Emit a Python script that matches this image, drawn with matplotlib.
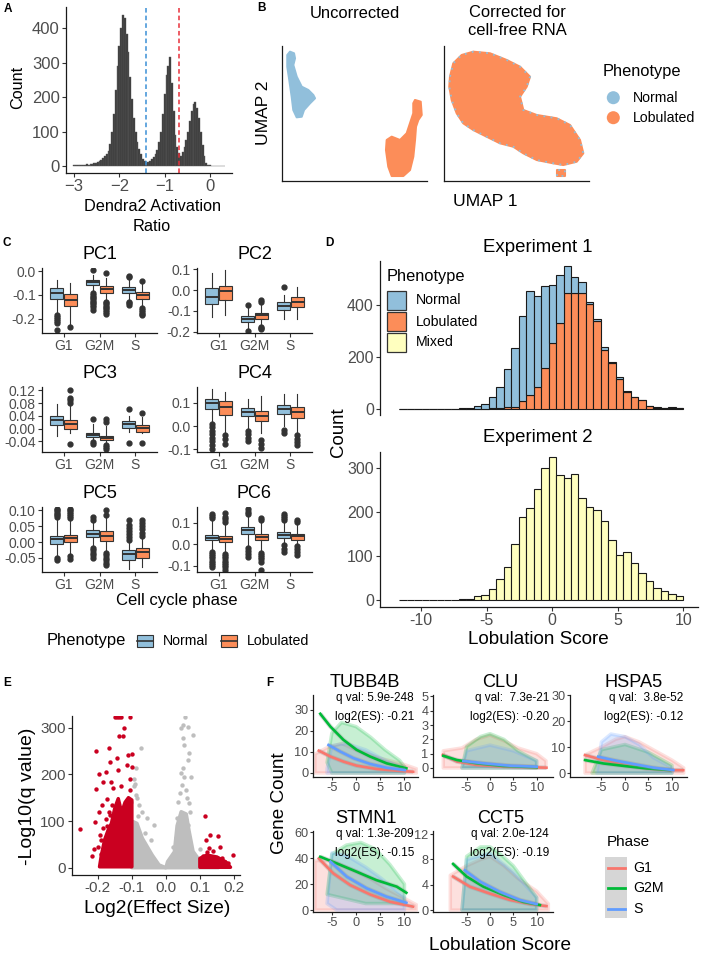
import numpy as np
import matplotlib
matplotlib.use('Agg')
import matplotlib.pyplot as plt
from matplotlib.patches import Polygon, Rectangle

plt.rcParams['font.family'] = ['Liberation Sans', 'DejaVu Sans']
plt.rcParams['axes.unicode_minus'] = False

BLUE = '#91BFDB'
ORANGE = '#FC8D59'
YELLOW = '#FFFFBF'
TICK = '#4D4D4D'
PHASE_COL = {'G1': '#F8766D', 'G2M': '#00BA38', 'S': '#619CFF'}

# ---------------- A: Dendra2 activation ratio ----------------
a_first_center = -3.0
a_bin_width = 0.04
a_counts = [2, 2, 3, 2, 4, 3, 4, 5, 4, 6, 6, 8, 10, 12, 14, 18, 25, 30, 36, 45,
            65, 100, 150, 220, 290, 350, 400, 440, 430, 385, 330, 260, 195, 140, 100, 70,
            50, 35, 22, 14, 8, 12, 16, 20, 26, 35, 48, 70, 100, 150, 210, 265, 290, 318,
            240, 160, 90, 55, 38, 30, 40, 55, 75, 100, 130, 160, 180, 185, 170, 140,
            100, 60, 28, 10, 4, 2, 1, 1, 1, 1, 1, 1, 1, 1]
a_cut_normal = -1.41
a_cut_lobulated = -0.68

# ---------------- B: UMAP cluster outlines ----------------
b_unc_normal_x = [0.53, 0.8, 1.2, 1.3, 1.13, 1.47, 1.97, 2.63, 3.13, 3.3, 2.8, 2.2, 1.97, 1.47, 1.13, 0.97, 0.73, 0.53]
b_unc_normal_y = [12.6, 12.93, 12.77, 12.27, 11.6, 10.43, 9.43, 9.1, 8.6, 8.27, 7.77, 7.1, 6.43, 6.37, 7.1, 8.43, 10.1, 11.43]
b_unc_lob_x = [13.3, 13.87, 13.97, 13.63, 13.4, 13.3, 13.13, 12.8, 12.13, 10.97, 10.63, 10.4, 10.47, 10.97, 11.8, 12.47, 12.8, 13.13, 13.13]
b_unc_lob_y = [8.1, 7.93, 6.6, 6.1, 5.43, 4.1, 2.43, 1.1, 0.5, 0.5, 1.43, 3.1, 4.1, 4.43, 4.1, 4.77, 5.77, 6.77, 7.77]
b_cor_x = [0.6, 0.93, 1.77, 2.93, 4.6, 6.27, 7.6, 8.6, 8.27, 7.6, 7.93, 9.27, 11.27, 12.6, 13.6, 13.93, 13.27,
           11.93, 10.93, 9.27, 7.93, 6.93, 5.6, 4.27, 2.93, 1.93, 1.27, 0.77, 0.53]
b_cor_y = [10.43, 11.77, 12.6, 12.93, 12.77, 12.1, 11.43, 10.43, 9.43, 8.43, 7.1, 6.6, 6.27, 5.6, 4.1, 2.77, 1.93,
           1.6, 1.77, 2.1, 2.77, 3.43, 3.77, 4.43, 5.1, 5.77, 6.77, 8.1, 9.43]
b_cor_small_x = [11.3, 11.3, 12.1, 12.1]
b_cor_small_y = [0.5, 1.1, 1.1, 0.5]

# ---------------- C: PC boxplots (order: G1-N, G1-L, G2M-N, G2M-L, S-N, S-L) ----------------
c_titles = ['PC1', 'PC2', 'PC3', 'PC4', 'PC5', 'PC6']
c_phases = ['G1', 'G2M', 'S']
c_q1 = [[-0.117, -0.147, -0.059, -0.090, -0.090, -0.116],
        [-0.065, -0.046, -0.155, -0.139, -0.098, -0.082],
        [0.010, -0.001, -0.026, -0.035, 0.002, -0.009],
        [0.073, 0.047, 0.041, 0.022, 0.051, 0.036],
        [-0.005, 0.000, 0.016, 0.003, -0.056, -0.050],
        [0.018, 0.011, 0.046, 0.018, 0.031, 0.022]]
c_med = [[-0.093, -0.121, -0.046, -0.076, -0.079, -0.100],
         [-0.033, -0.003, -0.140, -0.122, -0.078, -0.057],
         [0.028, 0.015, -0.019, -0.028, 0.014, 0.002],
         [0.099, 0.080, 0.061, 0.043, 0.073, 0.058],
         [0.011, 0.014, 0.026, 0.020, -0.039, -0.032],
         [0.031, 0.025, 0.065, 0.034, 0.045, 0.037]]
c_q3 = [[-0.071, -0.097, -0.036, -0.061, -0.067, -0.086],
        [0.008, 0.020, -0.127, -0.109, -0.057, -0.036],
        [0.038, 0.028, -0.014, -0.024, 0.023, 0.012],
        [0.116, 0.106, 0.077, 0.065, 0.091, 0.080],
        [0.018, 0.021, 0.037, 0.035, -0.026, -0.018],
        [0.045, 0.037, 0.080, 0.049, 0.057, 0.049]]
c_lo = [[-0.179, -0.221, -0.086, -0.121, -0.121, -0.150],
        [-0.130, -0.122, -0.188, -0.171, -0.139, -0.139],
        [-0.024, -0.014, -0.035, -0.043, -0.009, -0.014],
        [0.022, -0.029, -0.007, -0.028, 0.000, -0.029],
        [-0.042, -0.037, -0.011, -0.026, -0.085, -0.079],
        [-0.028, -0.035, -0.005, -0.028, 0.003, 0.003]]
c_hi = [[-0.036, -0.050, -0.014, -0.029, -0.036, -0.050],
        [0.082, 0.095, -0.082, -0.065, -0.024, 0.016],
        [0.078, 0.072, 0.015, 0.007, 0.040, 0.035],
        [0.160, 0.145, 0.116, 0.130, 0.138, 0.138],
        [0.074, 0.071, 0.063, 0.079, 0.000, 0.011],
        [0.110, 0.095, 0.129, 0.103, 0.103, 0.095]]
c_out = [[[-0.186, -0.195, -0.203, -0.211, -0.219, -0.25], [-0.236],
          [0.007, -0.093, -0.1, -0.107, -0.114, -0.121, -0.129, -0.136, -0.143, -0.15, -0.164],
          [-0.007, -0.129, -0.136, -0.143, -0.15, -0.157, -0.164, -0.171, -0.179],
          [-0.019, -0.026, -0.129, -0.136, -0.143], [-0.043, -0.157, -0.164, -0.171, -0.179, -0.186]],
         [[], [], [-0.073, -0.196], [-0.049, -0.057, -0.176, -0.183, -0.19], [0.016], []],
         [[], [0.12, 0.096, 0.088, 0.08, -0.047], [0.03, -0.043, -0.048],
          [0.03, 0.02, -0.05, -0.057, -0.065], [0.06, -0.045], [0.049, -0.045]],
         [[0.01, -0.005, -0.02, -0.035, -0.05, -0.065, -0.08, -0.1], [-0.04, -0.055, -0.075],
          [-0.02, -0.035, -0.05, -0.065], [-0.058, -0.075, -0.093], [-0.015, -0.03],
          [-0.04, -0.055, -0.07, -0.08]],
         [[0.08, 0.085, 0.09, 0.095, 0.1, 0.105, -0.05, -0.058],
          [0.077, 0.083, 0.089, 0.095, 0.1, 0.105, -0.045, -0.053],
          [0.07, 0.08, -0.018, -0.026, -0.034, -0.042, -0.05],
          [0.087, 0.1, -0.034, -0.042, -0.05, -0.058, -0.066, -0.074],
          [0.005, 0.015, 0.025, 0.035, 0.045, 0.055, 0.069],
          [0.02, 0.03, 0.04, 0.05, 0.06, 0.069]],
         [[0.12, 0.13, 0.14, -0.035, -0.045, -0.055, -0.065, -0.075, -0.085, -0.095, -0.105],
          [0.105, 0.115, 0.125, 0.145, -0.045, -0.055, -0.065, -0.075, -0.085, -0.095, -0.105, -0.12],
          [0.14, 0.15, 0.165, -0.015, -0.03, -0.045, -0.058],
          [0.11, 0.12, -0.04, -0.05, -0.06, -0.07, -0.08, -0.12],
          [0.11, 0.12, 0.13, 0.14, -0.005, -0.02, -0.035],
          [0.103, 0.11, -0.01, -0.02, -0.035, -0.05]]]
c_ylims = [(-0.261, 0.014), (-0.207, 0.106), (-0.073, 0.13), (-0.111, 0.167), (-0.095, 0.111), (-0.128, 0.172)]
c_yticks = [[-0.2, -0.1, 0.0], [-0.2, -0.1, 0.0, 0.1], [-0.04, 0.0, 0.04, 0.08, 0.12],
            [-0.1, 0.0, 0.1], [-0.05, 0.0, 0.05, 0.10], [-0.1, 0.0, 0.1]]
c_ydec = [1, 1, 2, 1, 2, 1]

# ---------------- D: lobulation score histograms ----------------
d_bin_width = 0.57
d_bin_index = list(range(-20, 18))
d1_lobulated = [0, 0, 0, 0, 0, 0, 0, 0, 0, 0, 0, 1, 2, 3, 6, 9, 31, 55, 85, 159, 252, 332, 445, 445,
                447, 402, 338, 228, 176, 117, 66, 46, 33, 12, 5, 3, 5, 2]
d1_normal = [0, 0, 0, 0, 1, 1, 1, 1, 2, 4, 12, 19, 46, 80, 149, 225, 325, 398, 349, 313, 223, 184, 103, 62,
             43, 9, 8, 9, 6, 7, 4, 2, 2, 1, 1, 1, 1, 1]
d2_mixed = [0, 0, 0, 0, 0, 0, 1, 1, 2, 3, 10, 12, 26, 48, 74, 127, 189, 208, 253, 300, 324, 283, 277, 286,
            232, 211, 204, 180, 136, 102, 110, 83, 61, 42, 28, 21, 13, 8]

# ---------------- E: volcano ----------------
e_red_x = [-0.253, -0.216, -0.211, -0.209, -0.206, -0.204, -0.196, -0.198, -0.194, -0.189, -0.184, -0.177,
           -0.174, -0.167, -0.165, -0.162, -0.155, -0.143, -0.14, -0.133, -0.123, -0.137, -0.127, -0.115,
           -0.11, -0.101, -0.104, -0.104, -0.099, -0.15, -0.143, -0.138, -0.133, -0.104,
           -0.19, -0.18, -0.172, -0.186, -0.178, -0.2, -0.192, -0.168, -0.158, -0.176, -0.185, -0.163,
           0.115, 0.118, 0.131, 0.154, 0.159, 0.174, 0.198, 0.12, 0.14, 0.184, 0.108, 0.165, 0.128]
e_red_y = [83, 26, 40, 99, 249, 169, 201, 120, 70, 134, 183, 206,
           147, 256, 227, 184, 170, 234, 209, 174, 299, 283, 283, 220,
           241, 243, 191, 166, 216, 322, 322, 322, 322, 322,
           30, 55, 90, 15, 8, 45, 60, 120, 135, 105, 85, 112,
           111, 59, 70, 68, 45, 13, 27, 34, 36, 11, 25, 20, 42]
e_grey_x = [-0.088, -0.093, -0.103, -0.088, -0.0735, -0.054, -0.069, -0.078, -0.035, -0.083, -0.095,
            -0.09, -0.085, -0.06, -0.045,
            0.056, 0.049, 0.064, 0.044, 0.081, 0.049, 0.054, 0.068, 0.065, 0.05, 0.044, 0.054, 0.074,
            0.048, 0.058, 0.036, 0.068, 0.044, 0.032, 0.058, 0.072, 0.039, 0.05, 0.064, 0.03, 0.062, 0.041,
            0.1, 0.13, 0.02]
e_grey_y = [213, 174, 141, 156, 256, 106, 120, 134, 91, 110, 190,
            180, 150, 75, 60,
            322, 306, 302, 299, 284, 277, 263, 245, 231, 213, 202, 195, 195,
            177, 166, 141, 138, 116, 106, 102, 120, 84, 81, 91, 63, 150, 160,
            40, 25, 45]
e_red_core_x = [-0.195, -0.19, -0.18, -0.17, -0.16, -0.15, -0.14, -0.13, -0.12, -0.11, -0.10, -0.10]
e_red_core_y = [2, 25, 60, 80, 95, 128, 148, 118, 140, 150, 145, 2]
e_red_core2_x = [0.1, 0.1, 0.12, 0.15, 0.175, 0.19]
e_red_core2_y = [1, 20, 27, 23, 13, 1]
e_grey_core_x = [-0.10, -0.10, -0.085, -0.069, -0.04, -0.02, 0.0]
e_grey_core_y = [0, 100, 95, 63, 27, 6, 0]
e_grey_core2_x = [0.0, 0.005, 0.025, 0.033, 0.045, 0.06, 0.068, 0.08, 0.095, 0.12, 0.155]
e_grey_core2_y = [0, 13, 34, 90, 120, 115, 80, 35, 20, 8, 0]

# ---------------- F: gene counts vs lobulation score ----------------
f_genes = ['TUBB4B', 'CLU', 'HSPA5', 'STMN1', 'CCT5']
f_qval = ['5.9e-248', '7.3e-21', '3.8e-52', '1.3e-209', '2.0e-124']
f_log2es = ['-0.21', '-0.20', '-0.12', '-0.15', '-0.19']
f_phases = ['G1', 'G2M', 'S']
f_yticks = [[0, 10, 20, 30], [0, 1, 2, 3, 4, 5], [0, 10, 20, 30], [0, 20, 40, 60], [0, 4, 8, 12]]
f_ylims = [(-1.9, 37), (-0.63, 5.1), (-1.5, 30), (-1.5, 60.8), (-0.3, 12.5)]
f_xlims = [(-8.9, 12.8), (-12.2, 13.5), (-11.7, 13.2), (-8.9, 12.8), (-12.2, 13.5)]

fit_tubb4b = {'G1': ([-7.7, -5.3, -2.6, 0.1, 4.2, 8.4, 11.8], [10.6, 7.8, 5.4, 3.5, 1.9, 1.1, 0.6]),
              'G2M': ([-7.4, -5.3, -2.6, 0.1, 2.9, 6.3, 10.4], [28.1, 22, 15.7, 11, 7.8, 4.6, 2.2]),
              'S': ([-5.7, -3.3, -0.5, 2.9, 6.3, 10.1], [13.3, 10.2, 7, 4.3, 2.5, 1.4])}
fit_clu = {'G1': ([-10.1, -7.1, -2.9, 2.9, 8.6, 12.1], [0.92, 0.45, 0.21, 0.09, 0.05, 0.02]),
           'G2M': ([-10, -7.1, -2.9, 2.9, 10], [0.85, 0.56, 0.33, 0.14, 0.05]),
           'S': ([-5.7, -1.4, 4.3, 10], [0.49, 0.33, 0.16, 0.09])}
fit_hspa5 = {'G1': ([-8.5, -4.6, 0, 4.6, 9.6, 12.4], [6.9, 5.0, 3.1, 1.8, 1.15, 1.1]),
             'G2M': ([-8.5, -4.6, 0, 4.6, 9.6], [5.0, 3.7, 2.7, 1.8, 1.15]),
             'S': ([-5.7, -2.5, 1.8, 6.0, 10.3], [6.3, 5.0, 3.5, 2.1, 1.15])}
fit_stmn1 = {'G1': ([-7.7, -4.7, -1.2, 2.9, 7.0, 11.8], [39.7, 28.2, 19.2, 12, 6.4, 2.6]),
             'G2M': ([-7.4, -4.0, 0.1, 4.2, 8.4, 10.4], [41, 35.9, 29.5, 23, 18, 13.3]),
             'S': ([-5.3, -1.9, 2.2, 6.3, 10.4], [37.2, 25.6, 16.7, 10.3, 5.6])}
fit_cct5 = {'G1': ([-7.9, -4.3, 0, 4.3, 8.6, 12.1], [5.3, 3.7, 2.6, 1.6, 0.95, 0.63]),
            'G2M': ([-7.9, -5.0, -1.4, 2.9, 7.1, 10.7], [7.3, 5.3, 3.7, 2.4, 1.3, 0.8]),
            'S': ([-5.4, -2.1, 2.1, 6.4, 10], [6.3, 4.5, 2.9, 1.6, 0.95])}

cloud_tubb4b = {'G1': ([-8.5, -8.5, -6, -3, 0, 5, 10, 12.5, 12.5], [0, 9, 12, 14, 11, 7, 4, 2, 0]),
                'G2M': ([-5, -6, -5, -3, 0, 3, 6, 9, 10, 10], [0, 5, 19, 24, 22, 17, 11, 6, 3, 0]),
                'S': ([-6, -6, -5, -2, 2, 6, 10, 10], [0, 2, 13, 14, 11, 6, 2, 0])}
cloud_clu = {'G1': ([-10, -10, -6, -3, 0, 3, 6, 10, 12, 12], [0, 1.2, 1.4, 2.0, 2.3, 1.9, 1.4, 1.0, 0.5, 0]),
             'G2M': ([-6, -5, -2, 0, 3, 6, 10, 10], [0, 1.5, 2.2, 2.4, 2.0, 1.2, 0.5, 0]),
             'S': ([-6, -5, 0, 5, 10, 10], [0, 1.2, 1.6, 1.2, 0.5, 0])}
cloud_hspa5 = {'G1': ([-8.5, -8.5, -5, -2, 0, 3, 6, 10, 12.5, 12.5], [0, 7, 10, 13, 14, 12, 9, 5, 2, 0]),
               'G2M': ([-7, -5, 0, 5, 10, 10], [0, 9, 11, 8, 3, 0]),
               'S': ([-6, -5, -3, 0, 3, 6, 10, 10], [0, 12, 15, 14, 11, 6, 2, 0])}
cloud_stmn1 = {'G1': ([-8.5, -8.5, -5, -2, 0, 3, 6, 10, 12.5, 12.5], [0, 38, 38, 33, 30, 24, 17, 9, 4, 0]),
               'G2M': ([2, -6, -5, -2, 1, 4, 7, 10, 10], [5, 12, 43, 50, 52, 47, 35, 20, 5]),
               'S': ([-4, -6, -5, -2, 2, 5, 10, 10], [0, 5, 44, 42, 33, 25, 10, 0])}
cloud_cct5 = {'G1': ([-8.5, -8.5, -5, -2, 0, 3, 6, 10, 12.5, 12.5], [0, 5.5, 7, 8, 8.5, 7, 5, 3, 1, 0]),
              'G2M': ([-6, -5, -2, 0, 2, 5, 8, 10, 10], [0, 8.5, 10, 10, 9, 7, 4, 2, 0]),
              'S': ([-6, -5, 0, 5, 10, 10], [0, 8, 9, 6, 2, 0])}
f_fits = [fit_tubb4b, fit_clu, fit_hspa5, fit_stmn1, fit_cct5]
f_clouds = [cloud_tubb4b, cloud_clu, cloud_hspa5, cloud_stmn1, cloud_cct5]

# ====================================================================
W, H = 709, 956
fig = plt.figure(figsize=(W / 100, H / 100), dpi=100)


def add_px_axes(left, top, right, bottom):
    return fig.add_axes([left / W, 1 - bottom / H, (right - left) / W, (bottom - top) / H])


def style(ax, size, length=3, pad=1.5):
    for s in ('top', 'right'):
        ax.spines[s].set_visible(False)
    for s in ('left', 'bottom'):
        ax.spines[s].set_linewidth(0.9)
        ax.spines[s].set_color('#1a1a1a')
    ax.tick_params(labelsize=size, labelcolor=TICK, color='#333333', length=length, width=0.8, pad=pad)
    ax.patch.set_alpha(0)


# ---- A ----
ax = add_px_axes(66, 7, 232, 173)
a_centers = a_first_center + a_bin_width * np.arange(len(a_counts))
ax.bar(a_centers, a_counts, width=a_bin_width, color='#3a3a3a', edgecolor='#5c5c5c', linewidth=0.3)
ax.axvline(a_cut_normal, color='#3A8FD6', ls=(0, (3, 2)), lw=1.1)
ax.axvline(a_cut_lobulated, color='#E8303A', ls=(0, (3, 2)), lw=1.1)
ax.set_xlim(-3.18, 0.49)
ax.set_ylim(-20, 462)
ax.set_xticks([-3, -2, -1, 0], ['\u22123', '\u22122', '\u22121', '0'])
ax.set_yticks([0, 100, 200, 300, 400])
style(ax, 12)

# ---- B ----
for left, right, polys in [(282, 427, [(b_unc_normal_x, b_unc_normal_y, BLUE), (b_unc_lob_x, b_unc_lob_y, ORANGE)]),
                           (444, 589, [(b_cor_x, b_cor_y, ORANGE), (b_cor_small_x, b_cor_small_y, ORANGE)])]:
    ax = add_px_axes(left, 46, right, 181)
    for xs, ys, col in polys:
        ax.add_patch(Polygon(np.column_stack([xs, ys]), closed=True, facecolor=col,
                             edgecolor=col, lw=1.5, joinstyle='round'))
        if right == 589:
            ax.add_patch(Polygon(np.column_stack([xs, ys]), closed=True, fill=False,
                                 edgecolor=BLUE, lw=1.3, ls=(0, (1, 3))))
    ax.set_xlim(0, 14.5)
    ax.set_ylim(0, 13.5)
    ax.set_xticks([])
    ax.set_yticks([])
    style(ax, 10)

# ---- C ----
c_cols = [(42, 157), (197, 312)]
c_rows = [(268, 333), (387, 452), (507, 572)]
for i, title in enumerate(c_titles):
    l, r = c_cols[i % 2]
    t, b = c_rows[i // 2]
    ax = add_px_axes(l, t, r, b)
    stats, pos, cols = [], [], []
    for j in range(6):
        stats.append(dict(q1=c_q1[i][j], med=c_med[i][j], q3=c_q3[i][j],
                          whislo=c_lo[i][j], whishi=c_hi[i][j], fliers=c_out[i][j]))
        pos.append(1 + j // 2 + (-0.19 if j % 2 == 0 else 0.19))
        cols.append(BLUE if j % 2 == 0 else ORANGE)
    bp = ax.bxp(stats, positions=pos, widths=0.37, patch_artist=True, showcaps=False,
                boxprops=dict(edgecolor='#333333', lw=0.8),
                whiskerprops=dict(color='#333333', lw=0.8),
                medianprops=dict(color='#333333', lw=1.4),
                flierprops=dict(marker='o', markerfacecolor='#333333', markeredgecolor='#333333',
                                markersize=3.5))
    for patch, col in zip(bp['boxes'], cols):
        patch.set_facecolor(col)
    ax.set_xlim(0.4, 3.6)
    ax.set_ylim(*c_ylims[i])
    ax.set_xticks([1, 2, 3], c_phases)
    ax.set_yticks(c_yticks[i], [f'{v:.{c_ydec[i]}f}' for v in c_yticks[i]])
    style(ax, 10)

# ---- D ----
d_centers = np.array(d_bin_index) * d_bin_width
ax = add_px_axes(380, 261, 698, 415)
ax.bar(d_centers, d1_lobulated, width=d_bin_width, color=ORANGE, edgecolor='#1a1a1a', lw=0.8)
ax.bar(d_centers, d1_normal, bottom=d1_lobulated, width=d_bin_width, color=BLUE,
       edgecolor='#1a1a1a', lw=0.8)
ax.set_xlim(-13.15, 11.12)
ax.set_ylim(-23, 569)
ax.set_yticks([0, 200, 400])
style(ax, 11.5)
ax.spines['bottom'].set_visible(False)
ax.tick_params(axis='x', bottom=False, labelbottom=False)

ax = add_px_axes(380, 452, 698, 607)
ax.bar(d_centers, d2_mixed, width=d_bin_width, color=YELLOW, edgecolor='#1a1a1a', lw=0.8)
ax.set_xlim(-13.15, 11.12)
ax.set_ylim(-15.9, 336)
ax.set_xticks([-10, -5, 0, 5, 10])
ax.set_yticks([0, 100, 200, 300])
style(ax, 11.5)

# ---- E ----
ax = add_px_axes(72, 716, 240, 875)
for xs, ys in [(e_grey_core_x, e_grey_core_y), (e_grey_core2_x, e_grey_core2_y)]:
    ax.add_patch(Polygon(np.column_stack([xs, ys]), closed=True, facecolor='#BEBEBE',
                         edgecolor='#BEBEBE', lw=2.5, joinstyle='round'))
ax.scatter(e_grey_x, e_grey_y, s=10, color='#BEBEBE', lw=0)
for xs, ys in [(e_red_core_x, e_red_core_y), (e_red_core2_x, e_red_core2_y)]:
    ax.add_patch(Polygon(np.column_stack([xs, ys]), closed=True, facecolor='#CA0020',
                         edgecolor='#CA0020', lw=2.5, joinstyle='round'))
ax.scatter(e_red_x, e_red_y, s=10, color='#CA0020', lw=0)
ax.set_xlim(-0.276, 0.218)
ax.set_ylim(-15.6, 325)
ax.set_xticks([-0.2, -0.1, 0.0, 0.1, 0.2], ['-0.2', '-0.1', '0.0', '0.1', '0.2'])
ax.set_yticks([0, 100, 200, 300])
style(ax, 11)

# ---- F ----
f_boxes = [(313, 695, 418, 777), (433, 695, 553, 777), (570, 695, 687, 777),
           (313, 831, 418, 912), (433, 831, 553, 912)]
for k, gene in enumerate(f_genes):
    l, t, r, b = f_boxes[k]
    ax = add_px_axes(l, t, r, b)
    for ph in f_phases:
        xs, ys = f_clouds[k][ph]
        ax.add_patch(Polygon(np.column_stack([xs, ys]), closed=True, facecolor=PHASE_COL[ph],
                             edgecolor=PHASE_COL[ph], lw=2.5, alpha=0.22, joinstyle='round'))
    for ph in f_phases:
        xs, ys = f_fits[k][ph]
        ax.plot(xs, ys, color='#999999', lw=3.2, alpha=0.35, solid_capstyle='butt')
        ax.plot(xs, ys, color=PHASE_COL[ph], lw=1.9)
    ax.set_xlim(*f_xlims[k])
    ax.set_ylim(*f_ylims[k])
    ax.set_xticks([-5, 0, 5, 10])
    ax.set_yticks(f_yticks[k])
    style(ax, 9.2, length=2.5, pad=0.8)

# ---- overlay: titles, labels, legends ----
ov = fig.add_axes([0, 0, 1, 1], zorder=10)
ov.set_xlim(0, W)
ov.set_ylim(H, 0)
ov.axis('off')


def txt(x, y, s, size, ha='center', **kw):
    ov.text(x, y, s, fontsize=size, ha=ha, va='center', **kw)


for x, y, s in [(8, 9, 'A'), (261, 8, 'B'), (7, 243, 'C'), (329, 243, 'D'), (7, 683, 'E'), (270, 683, 'F')]:
    txt(x, y, s, 8.5, fontweight='bold')

# A labels
txt(18, 87, 'Count', 11.7, rotation=90)
txt(152, 206.5, 'Dendra2 Activation', 11.7)
txt(152, 226.5, 'Ratio', 11.7)

# B labels and legend
txt(355, 13, 'Uncorrected', 11.9)
txt(517, 12.7, 'Corrected for', 11.9)
txt(517, 30.7, 'cell-free RNA', 11.9)
txt(263, 113, 'UMAP 2', 12.6, rotation=90)
txt(485, 201, 'UMAP 1', 12.6)
txt(603, 71, 'Phenotype', 11.8, ha='left')
ov.scatter([613.3, 613.3], [97.7, 117.7], s=88, color=[BLUE, ORANGE], lw=0)
txt(632.7, 97.7, 'Normal', 10.2, ha='left')
txt(632.7, 117.7, 'Lobulated', 10.2, ha='left')

# C labels and legend
for i, title in enumerate(c_titles):
    l, r = c_cols[i % 2]
    t, b = c_rows[i // 2]
    txt((l + r) / 2, t - 13.5, title, 13)
txt(176.7, 601, 'Cell cycle phase', 12)
txt(46.7, 641, 'Phenotype', 11.9, ha='left')
for x0, col, lab in [(136.7, BLUE, 'Normal'), (220.7, ORANGE, 'Lobulated')]:
    ov.add_patch(Rectangle((x0, 635), 16, 12, facecolor=col, edgecolor='#333333', lw=0.8))
    ov.plot([x0, x0 + 16], [641, 641], color='#333333', lw=1.2)
    txt(x0 + 26.6, 641, lab, 10.2, ha='left')

# D labels and legend
txt(538, 247, 'Experiment 1', 13.4)
txt(538, 437, 'Experiment 2', 13.4)
txt(338, 432, 'Count', 13.4, rotation=90)
txt(538, 639.3, 'Lobulation Score', 13.6)
txt(386.7, 276, 'Phenotype', 11.8, ha='left')
for y0, col, lab in [(291, BLUE, 'Normal'), (312, ORANGE, 'Lobulated'), (333, YELLOW, 'Mixed')]:
    ov.add_patch(Rectangle((387, y0), 19, 19, facecolor=col, edgecolor='#333333', lw=0.9))
    txt(416, y0 + 9.5, lab, 10.2, ha='left')

# E labels
txt(28, 796, '-Log10(q value)', 14, rotation=90)
txt(156.7, 908.3, 'Log2(Effect Size)', 13.8)

# F labels and legend
f_title_x = [365, 500, 634, 366, 501]
for k, gene in enumerate(f_genes):
    l, t, r, b = f_boxes[k]
    txt(f_title_x[k], t - 12.5, gene, 13.1)
    txt(r - 4, t + 3.5, f'q val: {f_qval[k]:>8}', 8.5, ha='right')
    txt(r - 4, t + 22, f'log2(ES): {f_log2es[k]}', 8.5, ha='right')
txt(280, 803, 'Gene Count', 13.6, rotation=90)
txt(500, 945, 'Lobulation Score', 13.7)
txt(606.7, 841.7, 'Phase', 11, ha='left')
ov.add_patch(Rectangle((605, 856.7), 21.7, 61.6, facecolor='#D6D6D6', edgecolor='none'))
for y0, ph in [(867.7, 'G1'), (888.3, 'G2M'), (909, 'S')]:
    ov.plot([607.5, 624.5], [y0, y0], color=PHASE_COL[ph], lw=2)
    txt(633.3, y0, ph, 10.2, ha='left')

fig.savefig('out.png', dpi=100)
